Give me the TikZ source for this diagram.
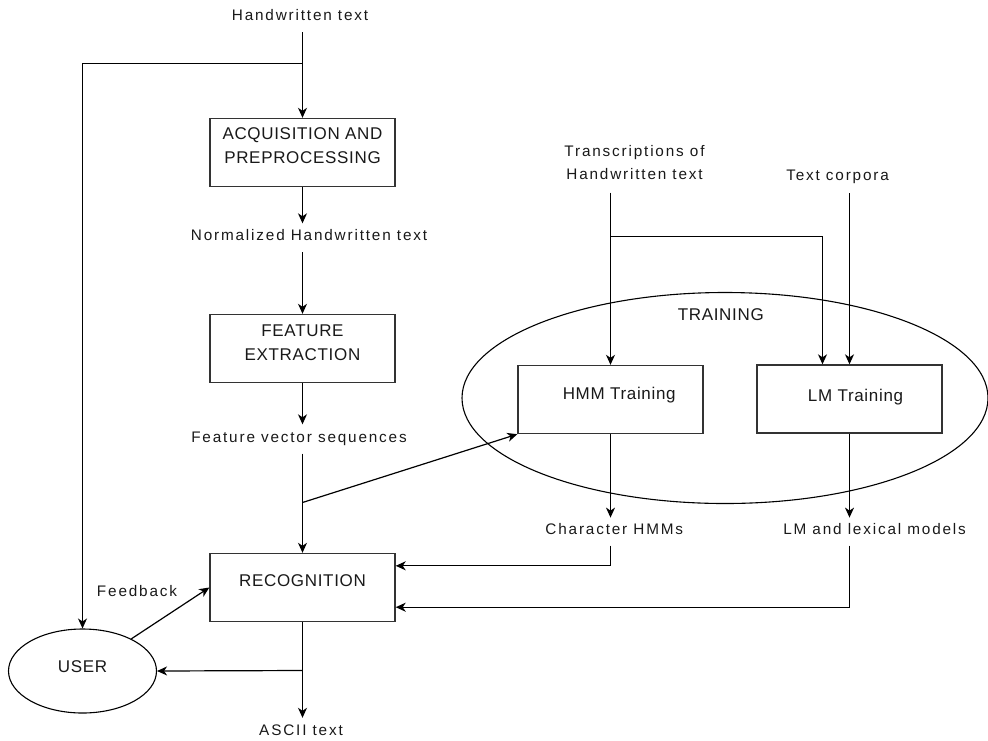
\documentclass[tikz,border=0pt]{standalone}
\usepackage{fontspec}
\setmainfont{Liberation Sans}
\newfontfamily\capfont[LetterSpace=12]{Liberation Sans}
\newfontfamily\boxfont[LetterSpace=4]{Liberation Sans}
\usetikzlibrary{arrows.meta,shapes.geometric,calc}
\tikzset{
  arr/.style={line width=1.2pt,-{Stealth[length=10pt,width=9pt,inset=3pt]}},
  capt/.style={inner sep=0pt,align=center,text=black!90,
    font=\capfont\fontsize{15.3}{23.6}\selectfont},
  capone/.style={capt,text height=11pt,text depth=0pt},
  procbox/.style={draw=black!80,line width=1.4pt,minimum width=185pt,minimum height=68pt,inner sep=0pt},
  blbl/.style={inner sep=0pt,align=center,text=black!90,
    font=\boxfont\fontsize{17}{24.5}\selectfont},
  blblone/.style={blbl,text height=12.2pt,text depth=0pt},
  ell/.style={draw=black,line width=1.1pt,ellipse,inner sep=0pt}
}
\begin{document}
\begin{tikzpicture}[x=1pt,y=-1pt]
\useasboundingbox (0,0) rectangle (988,740);

% captions
\node[capone] (ht) at (300,15) {Handwritten text};
\node[capone] (norm) at (309,235) {Normalized Handwritten text};
\node[capone] (fvs) at (299,437) {Feature vector sequences};
\node[capt] (trans) at (634.5,162.4) {Transcriptions of\\Handwritten text};
\node[capone] (corp) at (837.6,175) {Text corpora};
\node[capone] (chmm) at (614.3,529.3) {Character HMMs};
\node[capone] (lmlex) at (874.6,529.3) {LM and lexical models};
\node[capone] (ascii) at (301,730) {ASCII text};
\node[capone] (fb) at (137,590.7) {Feedback};

% training ellipse
\node[ell,minimum width=526pt,minimum height=211pt] (train) at (725,398) {};
\node[blblone] (trainlbl) at (720.8,314) {TRAINING};

% boxes
\node[procbox,label={[blbl,yshift=7pt]center:ACQUISITION AND\\PREPROCESSING}] (acq) at (302.5,152.5) {};
\node[procbox,label={[blbl,yshift=5.9pt]center:FEATURE\\EXTRACTION}] (feat) at (302.5,348.5) {};
\node[procbox,label={[blblone,yshift=7pt]center:RECOGNITION}] (rec) at (302.5,587.5) {};
\node[procbox,label={[blblone,xshift=8.7pt,yshift=6pt]center:HMM Training}] (hmm) at (610.5,399.5) {};
\node[procbox,label={[blblone,xshift=6pt,yshift=3.3pt]center:LM Training}] (lm) at (849.5,399) {};
\node[ell,minimum width=148pt,minimum height=84pt,label={[blblone,yshift=5pt]center:USER}] (user) at (82.5,671) {};

% connectors
\draw[arr] ($(acq.north |- ht.south)+(0,11.5)$) -- (acq.north);
\coordinate (j1) at (302.5,63.5);
\draw[arr] (j1) -| (user.north);
\draw[arr] (acq.south) -- ($(acq.south |- norm.north)+(0,-6)$);
\draw[arr] ($(feat.north |- norm.south)+(0,11.5)$) -- (feat.north);
\draw[arr] (feat.south) -- ($(feat.south |- fvs.north)+(0,-7)$);
\draw[arr] ($(rec.north |- fvs.south)+(0,11)$) -- (rec.north);
\coordinate (j2) at (302.5,502.5);
\draw[arr] (j2) -- (hmm.south west);

\draw[arr] ($(hmm.north |- trans.south)+(0,12.5)$) -- (hmm.north);
\coordinate (j3) at (610.5,236.5);
\coordinate (k3) at (822.5,236.5);
\draw[arr] (j3) -- (k3) -- (k3 |- lm.north);
\draw[arr] ($(lm.north |- corp.south)+(0,12.5)$) -- (lm.north);

\draw[arr] (hmm.south) -- ($(hmm.south |- chmm.north)+(0,-6)$);
\draw[arr] (lm.south) -- ($(lm.south |- lmlex.north)+(0,-6)$);
\coordinate (r1) at ($(rec.north east)+(0,13)$);
\coordinate (r2) at ($(rec.south east)+(0,-15)$);
\draw[arr] ($(hmm.south |- chmm.south)+(0,10.5)$) |- (r1);
\draw[arr] ($(lm.south |- lmlex.south)+(0,10.5)$) |- (r2);

\draw[arr] (user) -- (rec.west);
\draw[arr] (rec.south) -- ($(rec.south |- ascii.north)+(0,-6.5)$);
\coordinate (j4) at (302.5,670.5);
\draw[arr] (j4) -- (user.east);
\end{tikzpicture}
\end{document}
